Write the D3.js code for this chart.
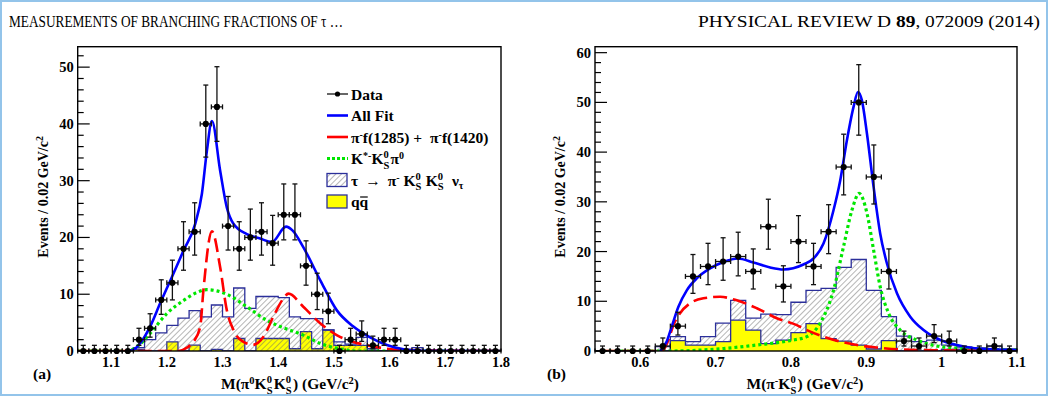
<!DOCTYPE html>
<html>
<head>
<meta charset="utf-8">
<script src="https://cdn.jsdelivr.net/npm/d3@7"></script>
<style>
  body { margin: 0; background: #fff; }
  svg { display: block; }
  text { font-family: "Liberation Serif", "Times New Roman", serif; }
</style>
</head>
<body>
<svg id="chart" width="1048" height="396"></svg>
<script>
// ---------- panel (a): M(pi0 KS KS), 0.02 GeV bins from 1.04 to 1.80
const binsA = d3.range(38).map(i => +(1.05 + 0.02 * i).toFixed(2));
const dataA = [0, 0, 0, 0, 0, 2, 4, 9, 12, 18, 21, 40, 43, 22, 18, 20, 21, 19, 24, 24,
               15, 10, 7, 0, 2, 3, 1, 2, 2, 0, 0, 0, 0, 0, 0, 0, 0, 0];
const tauA  = [0, 0, 0, 0, 0, 0.6, 2, 3.2, 4.5, 5.8, 7.1, 6, 8.1, 6, 11.1, 7.5, 9.6, 9.6, 9.4, 6,
               5.7, 5.7, 3.7, 1.6, 1.2, 2.4, 0.4, 0, 0, 0, 0.6, 0, 0, 0, 0, 0, 0, 0];
const qqA   = [0, 0, 0, 0, 0, 0.3, 0, 0, 1.6, 0, 1.05, 0, 0.3, 0, 2.2, 0, 2.2, 2.2, 2.2, 0.4,
               3.4, 0.4, 3.7, 1, 1, 1, 0, 0, 0, 0, 0, 0, 0, 0, 0, 0, 0, 0];
const fitA = [[1.13, 0], [1.14, 0.2], [1.152, 1.35], [1.17, 4.3], [1.188, 8.4], [1.209, 13],
              [1.23, 17.7], [1.251, 22.4], [1.263, 27.7], [1.272, 35.3], [1.281, 40.5],
              [1.2957, 31.8], [1.3077, 25.3], [1.3196, 22.4], [1.3436, 20.6], [1.3675, 19.8],
              [1.3886, 19.2], [1.414, 21.9], [1.426, 21.2], [1.445, 18.3], [1.4753, 12.5],
              [1.505, 7.2], [1.535, 4.3], [1.565, 2.4], [1.595, 1.05], [1.625, 0.3], [1.66, 0.05], [1.8, 0]];
const fPiA = [[1.04, 0], [1.22, 0], [1.236, 0.6], [1.2477, 1.6], [1.26, 4.3], [1.2657, 10.7],
              [1.281, 21.1], [1.2957, 14.8], [1.3077, 7.2], [1.3196, 3.7], [1.3375, 1.6],
              [1.355, 1.1], [1.3735, 2.5], [1.391, 6], [1.409, 9.2], [1.4184, 10.1], [1.445, 7.8],
              [1.4753, 4.9], [1.505, 2.8], [1.535, 1.6], [1.565, 0.9], [1.62, 0.2], [1.8, 0]];
const kstA = [[1.04, 0], [1.13, 0], [1.146, 0.75], [1.17, 3.1], [1.2, 6.6], [1.23, 8.9],
              [1.2538, 10.3], [1.2718, 10.8], [1.3077, 10], [1.3436, 7.8], [1.3796, 5.4],
              [1.4035, 4.3], [1.445, 2.8], [1.475, 1.35], [1.505, 0.5], [1.54, 0], [1.8, 0]];
const xTicksA = [1.1, 1.2, 1.3, 1.4, 1.5, 1.6, 1.7, 1.8];
const yTicksA = [0, 10, 20, 30, 40, 50];

// ---------- panel (b): M(pi- KS), 0.02 GeV bins from 0.54 to 1.10
const binsB = d3.range(28).map(i => +(0.55 + 0.02 * i).toFixed(2));
const dataB = [0, 0, 0, 0, 1, 5, 15, 17, 18, 19, 16, 25, 13, 22, 17, 24, 37, 50, 35, 16,
               2, 1, 3, 2, 0, 0, 1, 0];
const tauB  = [0, 0, 0, 0, 0.9, 2.9, 1.9, 2.9, 5.6, 10.2, 6.6, 7.4, 7.3, 9.8, 12.2, 12.6, 16.8, 18.4, 12.2, 6.9,
               3, 1.9, 2.2, 1.2, 0.8, 0.6, 1, 0.4];
const qqB   = [0, 0, 0, 0, 0, 2.1, 1.2, 1.2, 1.9, 6.2, 4.2, 1.5, 2.2, 3.7, 5.5, 2.5, 2, 1.2, 0.4, 2.1,
               0, 0, 0, 0.3, 0.3, 0, 0, 0];
const fitB = [[0.6263, 0], [0.6352, 1.9], [0.6418, 4.9], [0.6507, 8.9], [0.6618, 12.2], [0.675, 14.6],
              [0.6927, 16.6], [0.7104, 17.9], [0.7295, 18.6], [0.7502, 17.8], [0.7724, 16.8],
              [0.79, 16.4], [0.8166, 17.4], [0.83, 18.6], [0.8432, 21.6], [0.8565, 28.3],
              [0.8654, 34.3], [0.8743, 42.4], [0.8831, 49.1], [0.8889, 52.1], [0.8942, 50.4],
              [0.9009, 43.7], [0.9097, 33], [0.9185, 23.6], [0.9274, 17.6], [0.9407, 11.6],
              [0.9583, 6.9], [0.976, 4.2], [0.9982, 2.2], [1.0203, 1.2], [1.0469, 0.5], [1.1, 0.2]];
const fPiB = [[0.55, 0], [0.6286, 0], [0.6374, 2.2], [0.644, 5.2], [0.6529, 7.6], [0.6662, 9.6],
              [0.6838, 10.6], [0.706, 10.9], [0.7281, 10.2], [0.7547, 8.6], [0.7812, 6.6],
              [0.8078, 5.2], [0.8211, 4.2], [0.8432, 2.9], [0.8654, 1.9], [0.8876, 1.2],
              [0.914, 0.7], [0.945, 0.3], [0.99, 0.15], [1.1, 0.05]];
const kstB = [[0.55, 0], [0.64, 0], [0.7104, 0.5], [0.7547, 1.2], [0.799, 2.1], [0.8211, 2.9],
              [0.8388, 5.6], [0.8565, 12.2], [0.8698, 21], [0.8809, 28.3], [0.8906, 31.7],
              [0.9009, 27.7], [0.9097, 20.3], [0.9185, 12.9], [0.9296, 7.6], [0.945, 4.2],
              [0.9672, 2.2], [0.9938, 1], [1.029, 0.5], [1.1, 0.2]];
const xTicksB = [0.6, 0.7, 0.8, 0.9, 1, 1.1];
const yTicksB = [0, 10, 20, 30, 40, 50, 60];

const svg = d3.select("#chart");

// page frame and running header
svg.append("rect").attr("x", 1).attr("y", 1).attr("width", 1046).attr("height", 394)
  .attr("fill", "none").attr("stroke", "#93c4ea").attr("stroke-width", 2);
svg.append("text").attr("x", 9).attr("y", 27).attr("font-size", 17.5)
  .attr("textLength", 334).attr("lengthAdjust", "spacingAndGlyphs")
  .text("MEASUREMENTS OF BRANCHING FRACTIONS OF \u03c4 \u2026");
const hdr = svg.append("text").attr("x", 1040).attr("y", 27).attr("font-size", 17.5)
  .attr("text-anchor", "end").attr("textLength", 342).attr("lengthAdjust", "spacingAndGlyphs");
hdr.append("tspan").text("PHYSICAL REVIEW D ");
hdr.append("tspan").attr("font-weight", "bold").text("89");
hdr.append("tspan").text(", 072009 (2014)");

// hatch pattern
const defs = svg.append("defs");
defs.append("pattern").attr("id", "hatch").attr("patternUnits", "userSpaceOnUse")
  .attr("width", 4).attr("height", 4).attr("patternTransform", "rotate(45)")
  .append("line").attr("x1", 0).attr("y1", 0).attr("x2", 0).attr("y2", 4)
  .attr("stroke", "#6e6e6e").attr("stroke-width", 1);

function poisson(n) {
  const s = Math.sqrt(n + 0.25);
  return [n + 0.5 - s, n + 0.5 + s];
}

// K^0_S with stacked super/subscript; dy0/dx0 shift the K itself
function ks(t, size, dy0 = 0, dx0 = 0) {
  const s = size * 0.68;
  t.append("tspan").attr("dy", dy0).attr("dx", dx0).text("K");
  t.append("tspan").attr("dy", -size * 0.38).attr("font-size", s).text("0");
  t.append("tspan").attr("dx", -s * 0.5).attr("dy", size * 0.7).attr("font-size", s).text("S");
  t.append("tspan").attr("dy", -size * 0.32).text("\u200a");
}
// small superscript, returns the offset to undo
function sup(t, str, size) {
  t.append("tspan").attr("dy", -5).attr("font-size", size).text(str);
  return 5;
}

function drawPanel(o) {
  const g = svg.append("g");
  const x = d3.scaleLinear().domain(o.xDomain).range([o.left, o.right]);
  const y = d3.scaleLinear().domain([0, o.yMax]).range([o.bottom, o.top]);
  const half = 0.01;

  const clipId = "clip" + o.name;
  defs.append("clipPath").attr("id", clipId).append("rect")
    .attr("x", o.left).attr("y", o.top).attr("width", o.right - o.left).attr("height", o.bottom - o.top);
  const plot = g.append("g").attr("clip-path", `url(#${clipId})`);

  function histPoints(vals) {
    const pts = [[o.bins[0] - half, 0]];
    o.bins.forEach((b, i) => pts.push([b - half, vals[i]]));
    const last = o.bins[o.bins.length - 1] + half;
    pts.push([last, vals[vals.length - 1]], [last, 0]);
    return pts;
  }
  const stepLine = d3.line().x(d => x(d[0])).y(d => y(d[1])).curve(d3.curveStepAfter);

  function drawHist(vals, fill, stroke) {
    const pts = histPoints(vals);
    plot.append("path").attr("d", stepLine(pts) + "Z").attr("fill", fill).attr("stroke", "none");
    plot.append("path").attr("d", stepLine(pts)).attr("fill", "none")
      .attr("stroke", stroke).attr("stroke-width", 1.3);
  }

  const order = o.qqOnTop ? ["tau", "qq"] : ["qq", "tau"];
  order.forEach(k => {
    if (k === "tau") drawHist(o.tau, "url(#hatch)", "#2b2f9a");
    else drawHist(o.qq, "#ffff00", "#2b2f9a");
  });

  const curve = d3.line().x(d => x(d[0])).y(d => y(d[1])).curve(d3.curveMonotoneX);
  plot.append("path").attr("d", curve(o.kst)).attr("fill", "none")
    .attr("stroke", "#00e600").attr("stroke-width", 3.2).attr("stroke-dasharray", "3,3");
  plot.append("path").attr("d", curve(o.fPi)).attr("fill", "none")
    .attr("stroke", "#ff0000").attr("stroke-width", 2.6).attr("stroke-dasharray", "14,6");
  plot.append("path").attr("d", curve(o.fit)).attr("fill", "none")
    .attr("stroke", "#0000ff").attr("stroke-width", 2.6);

  // data points with Poisson errors
  const pts = g.append("g").attr("stroke", "#111").attr("stroke-width", 1.3);
  o.bins.forEach((b, i) => {
    const n = o.data[i];
    const [lo, hi] = poisson(n);
    const cx = x(b), cy = y(n);
    const xl = x(b - half), xr = x(b + half);
    pts.append("line").attr("x1", xl).attr("x2", xr).attr("y1", cy).attr("y2", cy);
    pts.append("line").attr("x1", xl).attr("x2", xl).attr("y1", cy - 2.5).attr("y2", cy + 2.5);
    pts.append("line").attr("x1", xr).attr("x2", xr).attr("y1", cy - 2.5).attr("y2", cy + 2.5);
    pts.append("line").attr("x1", cx).attr("x2", cx).attr("y1", y(lo)).attr("y2", y(hi));
    pts.append("line").attr("x1", cx - 2.5).attr("x2", cx + 2.5).attr("y1", y(hi)).attr("y2", y(hi));
    if (lo > 0) pts.append("line").attr("x1", cx - 2.5).attr("x2", cx + 2.5).attr("y1", y(lo)).attr("y2", y(lo));
    pts.append("circle").attr("cx", cx).attr("cy", cy).attr("r", 3.1).attr("fill", "#000").attr("stroke", "none");
  });

  // frame
  g.append("rect").attr("x", o.left).attr("y", o.top)
    .attr("width", o.right - o.left).attr("height", o.bottom - o.top)
    .attr("fill", "none").attr("stroke", "#000").attr("stroke-width", 1.4);

  // y axis: ticks pointing inwards
  const yAxis = g.append("g").attr("stroke", "#000").attr("stroke-width", 1.2);
  d3.range(0, o.yMax, 2).forEach(v => {
    const major = v % 10 === 0;
    yAxis.append("line").attr("x1", o.left).attr("x2", o.left + (major ? 12 : 6))
      .attr("y1", y(v)).attr("y2", y(v));
  });
  o.yTicks.forEach(v => {
    g.append("text").attr("x", o.left - 4).attr("y", y(v) + 5)
      .attr("text-anchor", "end").attr("font-size", 14.5).attr("font-weight", "bold").text(v);
  });
  o.xTicks.forEach(v => {
    g.append("text").attr("x", x(v)).attr("y", o.bottom + 16)
      .attr("text-anchor", "middle").attr("font-size", 14.5).attr("font-weight", "bold").text(v);
  });

  // axis titles
  const yl = g.append("text").attr("transform", `translate(${o.left - 30},${(o.top + o.bottom) / 2 - 2}) rotate(-90)`)
    .attr("text-anchor", "middle").attr("font-size", 14).attr("font-weight", "bold");
  yl.append("tspan").text("Events / 0.02 GeV/c");
  yl.append("tspan").attr("dy", -5).attr("font-size", 10).text("2");

  const xl = g.append("text").attr("x", o.xTitleX).attr("y", 389)
    .attr("text-anchor", "middle").attr("font-size", 15.5).attr("font-weight", "bold");
  o.xTitle(xl);

  g.append("text").attr("x", o.labelX).attr("y", 379).attr("font-size", 15.5).attr("font-weight", "bold")
    .attr("font-family", '"Liberation Sans", Arial, sans-serif').text(o.label);
}

function gevTail(t) {
  t.append("tspan").text(") (GeV/c");
  const d = sup(t, "2", 10.5);
  t.append("tspan").attr("dy", d).text(")");
}

drawPanel({
  name: "a", bins: binsA, data: dataA, tau: tauA, qq: qqA, fit: fitA, fPi: fPiA, kst: kstA,
  xDomain: [1.04, 1.8], yMax: 53.6, left: 77.7, right: 501, top: 46.7, bottom: 351,
  xTicks: xTicksA, yTicks: yTicksA, qqOnTop: false, label: "(a)", labelX: 33, xTitleX: 290,
  xTitle: t => {
    t.append("tspan").text("M(\u03c0");
    const d = sup(t, "0", 10.5);
    ks(t, 15.5, d); ks(t, 15.5);
    gevTail(t);
  }
});

drawPanel({
  name: "b", bins: binsB, data: dataB, tau: tauB, qq: qqB, fit: fitB, fPi: fPiB, kst: kstB,
  xDomain: [0.54, 1.1], yMax: 61.2, left: 595, right: 1017, top: 46.7, bottom: 351,
  xTicks: xTicksB, yTicks: yTicksB, qqOnTop: true, label: "(b)", labelX: 547, xTitleX: 805,
  xTitle: t => {
    t.append("tspan").text("M(\u03c0");
    const d = sup(t, "-", 10.5);
    ks(t, 15.5, d);
    gevTail(t);
  }
});

// legend of panel (a)
const legX = 327, legT = 351, fs = 15.5;
const leg = svg.append("g").attr("font-size", fs).attr("font-weight", "bold");
const rows = [94, 115.5, 137, 158.5, 180, 201.5];
leg.append("line").attr("x1", legX).attr("x2", legX + 21).attr("y1", rows[0]).attr("y2", rows[0])
  .attr("stroke", "#000").attr("stroke-width", 1.2);
leg.append("circle").attr("cx", legX + 10.5).attr("cy", rows[0]).attr("r", 2.6);
leg.append("line").attr("x1", legX).attr("x2", legX + 21).attr("y1", rows[1]).attr("y2", rows[1])
  .attr("stroke", "#0000ff").attr("stroke-width", 2.6);
leg.append("line").attr("x1", legX).attr("x2", legX + 21).attr("y1", rows[2]).attr("y2", rows[2])
  .attr("stroke", "#ff0000").attr("stroke-width", 2.6);
leg.append("line").attr("x1", legX).attr("x2", legX + 21).attr("y1", rows[3]).attr("y2", rows[3])
  .attr("stroke", "#00e600").attr("stroke-width", 3.2).attr("stroke-dasharray", "3,2");
leg.append("rect").attr("x", legX).attr("y", rows[4] - 6.5).attr("width", 20).attr("height", 13)
  .attr("fill", "url(#hatch)").attr("stroke", "#2b2f9a").attr("stroke-width", 1.3);
leg.append("rect").attr("x", legX).attr("y", rows[5] - 6.5).attr("width", 20).attr("height", 13)
  .attr("fill", "#ffff00").attr("stroke", "#2b2f9a").attr("stroke-width", 1.3);

const lt = i => leg.append("text").attr("x", legT).attr("y", rows[i] + 5.5);
lt(0).text("Data");
lt(1).text("All Fit");
const l2 = lt(2);
l2.append("tspan").text("\u03c0");
let d2 = sup(l2, "-", 10);
l2.append("tspan").attr("dy", d2).text("f(1285) +");
l2.append("tspan").attr("dx", 8).text("\u03c0");
d2 = sup(l2, "-", 10);
l2.append("tspan").attr("dy", d2).text("f(1420)");
const l3 = lt(3);
l3.append("tspan").text("K");
const d3s = sup(l3, "*-", 10);
ks(l3, fs, d3s);
l3.append("tspan").text("\u03c0");
sup(l3, "0", 10);
const l4 = lt(4);
l4.append("tspan").text("\u03c4");
l4.append("tspan").attr("dx", 7).text("\u2192");
l4.append("tspan").attr("dx", 7).text("\u03c0");
const d4 = sup(l4, "-", 10);
ks(l4, fs, d4, 4);
ks(l4, fs, 0, 3);
l4.append("tspan").attr("dx", 7).text("\u03bd");
l4.append("tspan").attr("dy", 3).attr("font-size", 10).text("\u03c4");
const l5 = lt(5).text("qq");
const qw = l5.node().getComputedTextLength();
leg.append("line").attr("x1", legT + qw / 2 + 0.5).attr("x2", legT + qw - 0.5)
  .attr("y1", rows[5] - 4.5).attr("y2", rows[5] - 4.5).attr("stroke", "#000").attr("stroke-width", 1.2);
</script>
</body>
</html>
